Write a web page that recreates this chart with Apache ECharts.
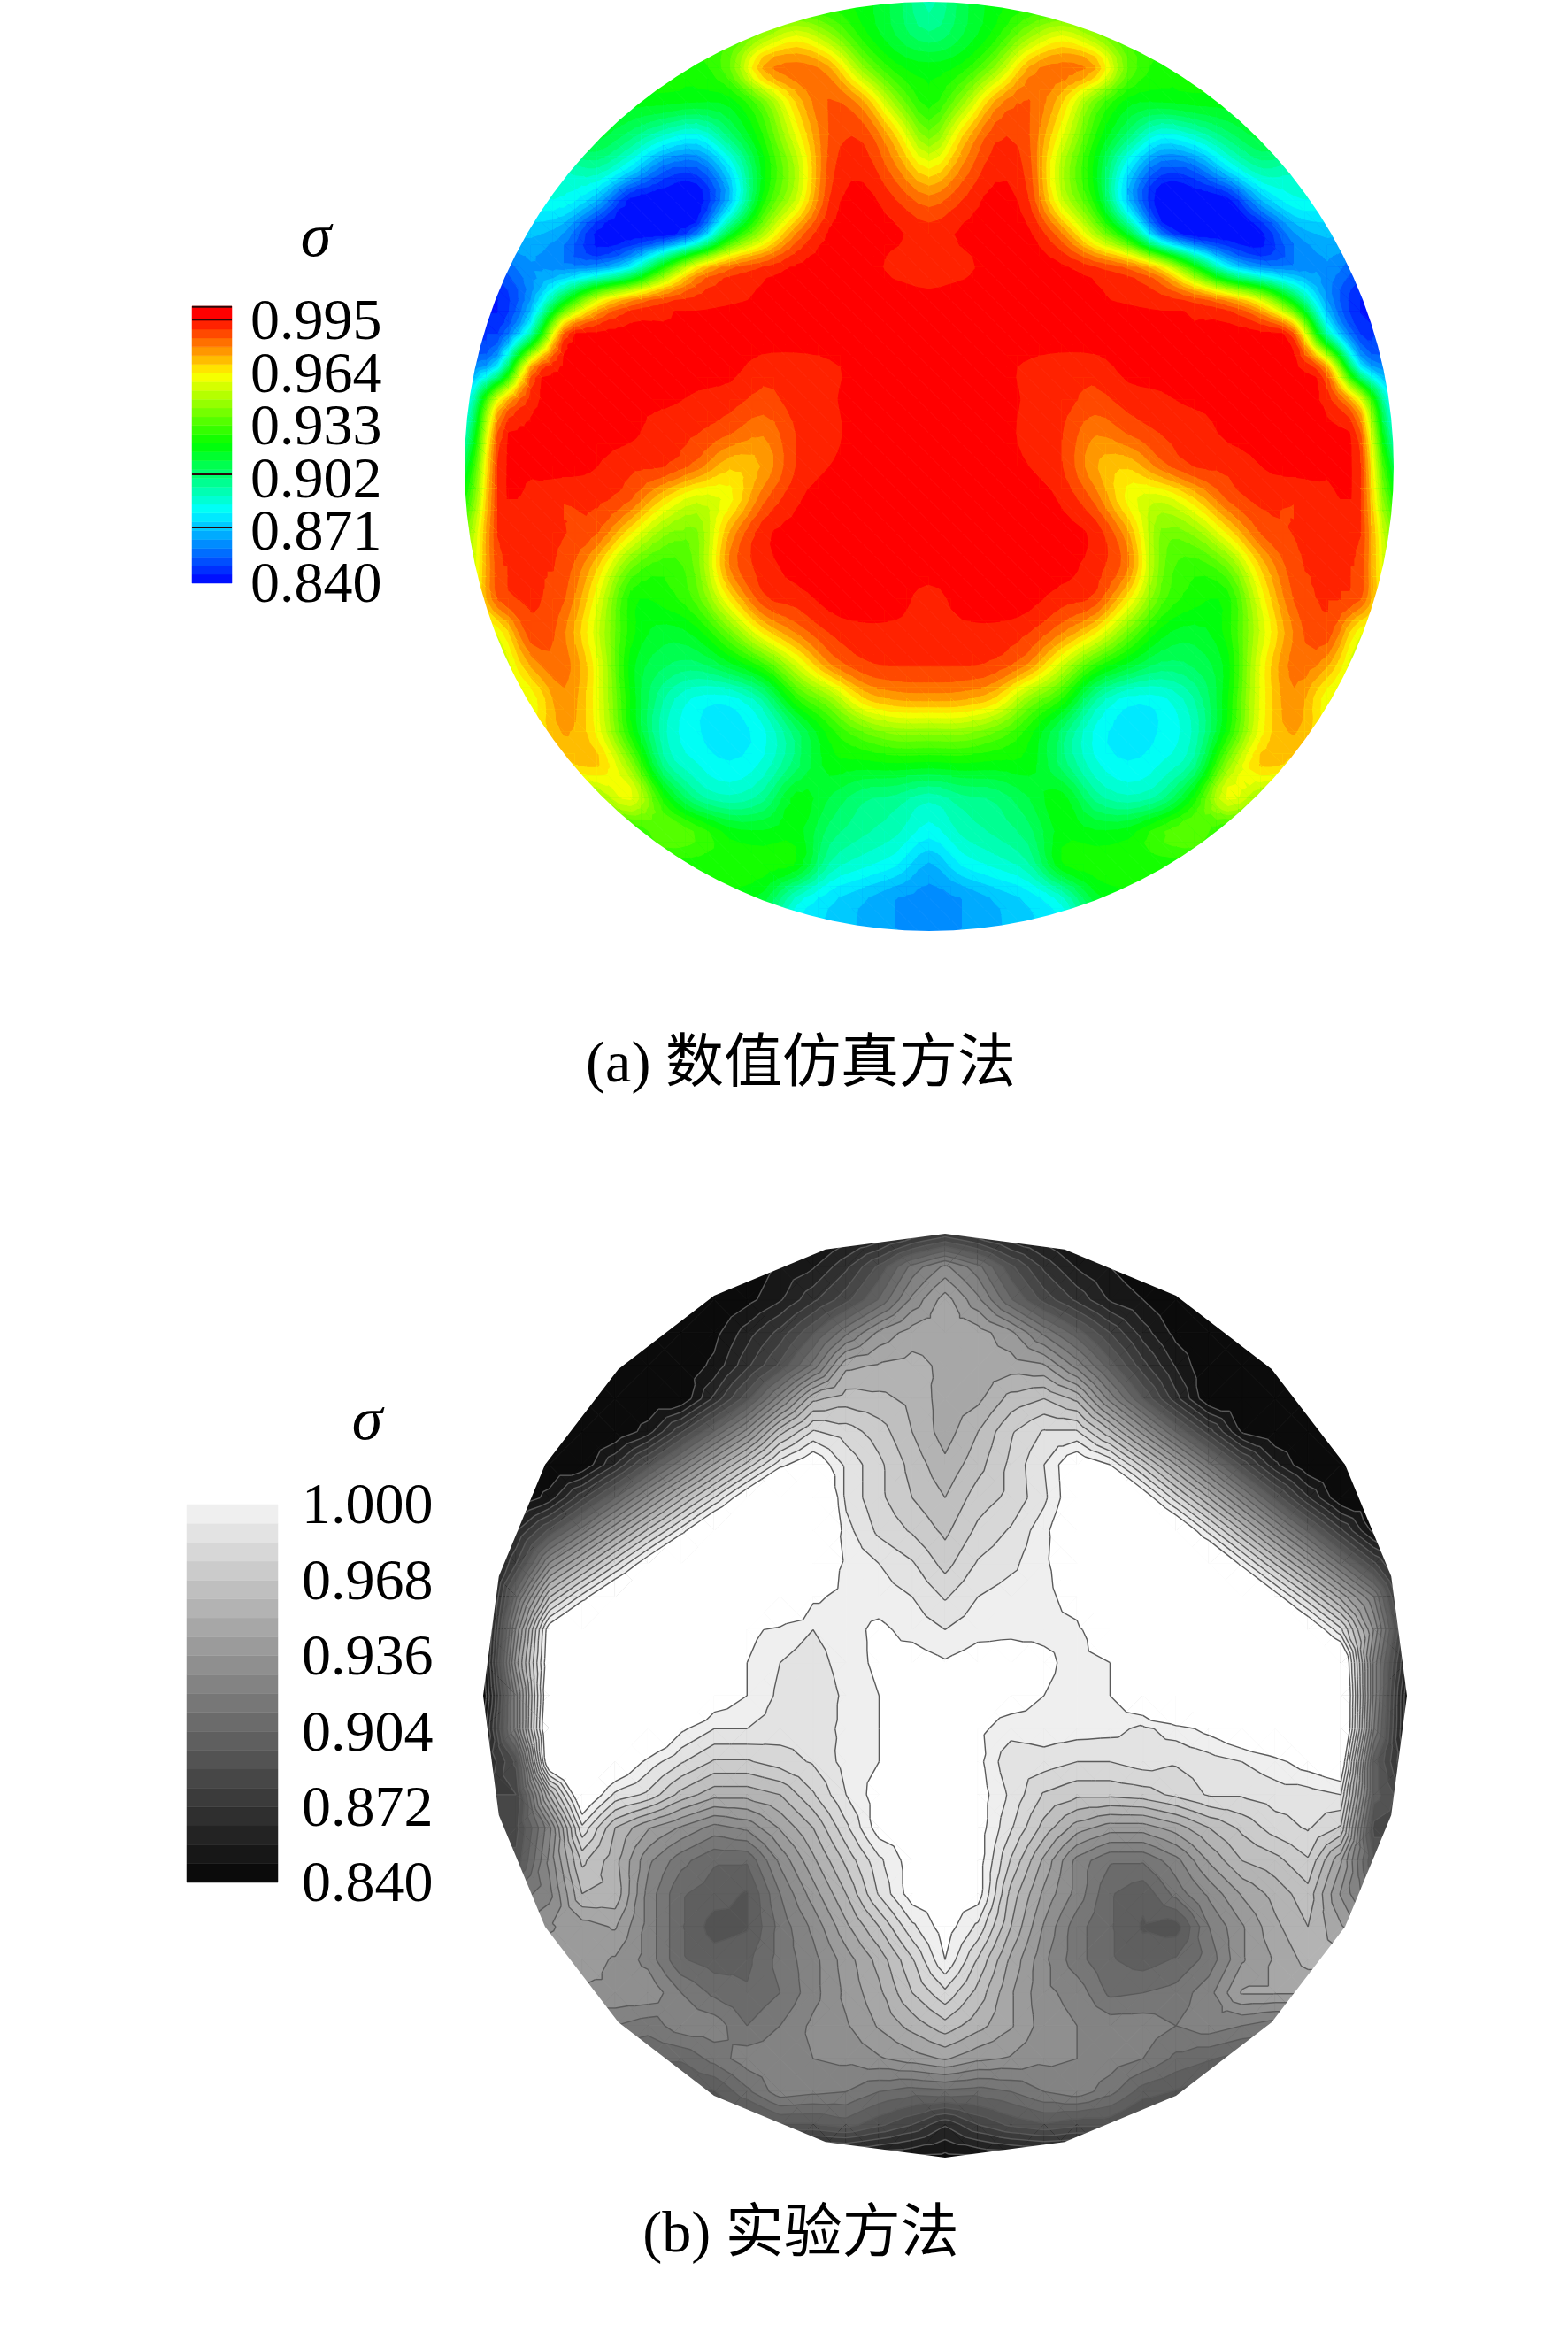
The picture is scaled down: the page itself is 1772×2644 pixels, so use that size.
<!DOCTYPE html>
<html><head><meta charset="utf-8">
<style>html,body{margin:0;padding:0;background:#fff}#c{width:1772px;height:2644px}</style>
<script src="https://cdn.jsdelivr.net/npm/echarts@6/dist/echarts.min.js"></script>
</head><body><div id="c"></div>
<script>
// sigma x 1000 on a square lattice covering each disc
const sigmaA = [
[925,925,925,925,925,925,925,925,925,925,925,925,920,910,895,910,920,925,925,925,925,925,925,925,925,925,925,925,925],
[930,930,930,930,930,930,930,930,930,945,958,945,925,912,903,912,925,945,958,945,930,930,930,930,930,930,930,930,930],
[925,925,925,925,925,925,925,925,938,975,982,975,945,925,920,925,945,975,982,975,938,925,925,925,925,925,925,925,925],
[920,920,920,920,920,920,920,918,920,940,970,985,975,945,925,945,975,985,970,940,920,918,920,920,920,920,920,920,920],
[915,915,915,915,915,905,892,885,905,928,960,985,988,968,940,968,988,985,960,928,905,885,892,905,915,915,915,915,915],
[895,895,895,893,897,880,858,855,880,920,950,987,993,980,963,980,993,987,950,920,880,855,858,880,897,893,895,895,895],
[885,885,885,885,870,842,840,840,872,925,955,990,997,990,982,990,997,990,955,925,872,840,840,842,870,885,885,885,885],
[870,870,872,865,843,840,840,860,915,950,980,996,998,996,992,996,998,996,980,950,915,860,840,840,843,865,872,870,870],
[855,855,865,862,864,882,925,965,983,990,996,998,998,993,991,993,998,998,996,990,983,965,925,882,864,862,865,855,855],
[845,845,866,915,958,978,988,992,994,996,999,999,999,999,997,999,999,999,999,996,994,992,988,978,958,915,866,845,845],
[850,850,895,985,996,997,995,996,999,999,999,999,999,999,999,999,999,999,999,999,999,996,995,997,996,985,895,850,850],
[860,880,975,996,998,998,998,997,997,992,992,994,997,999,999,999,997,994,992,992,997,997,998,998,998,996,975,880,860],
[875,960,992,997,997,996,996,994,992,988,992,994,998,999,999,999,998,994,992,988,992,994,996,996,997,997,992,960,875],
[890,985,996,997,997,996,992,990,985,980,990,993,998,999,999,999,998,993,990,980,985,990,992,996,997,997,996,985,890],
[910,990,996,997,995,991,990,982,970,975,990,995,998,999,999,999,998,995,990,975,970,982,990,991,995,997,996,990,910],
[925,990,993,990,991,985,968,955,962,983,994,998,999,999,999,999,999,998,994,983,962,955,968,985,991,990,993,990,925],
[940,990,991,990,985,965,945,942,975,993,997,999,999,999,999,999,999,999,997,993,975,942,945,965,985,990,991,990,940],
[945,988,990,988,970,940,930,940,980,992,997,999,999,999,999,999,999,999,997,992,980,940,930,940,970,988,990,988,945],
[950,985,990,985,960,925,925,935,965,988,992,997,999,998,992,998,999,997,992,988,965,935,925,925,960,985,990,985,950],
[955,960,988,980,955,925,915,920,940,965,980,990,993,993,992,993,993,990,980,965,940,920,915,925,955,980,988,960,955],
[950,950,975,982,960,920,908,905,915,930,955,978,988,990,990,990,988,978,955,930,915,905,908,920,960,982,975,950,950],
[950,950,960,978,960,922,897,885,884,898,928,945,968,975,976,975,968,945,928,898,884,885,897,922,960,978,960,950,950],
[945,945,960,975,962,925,893,882,879,885,905,925,938,945,945,945,938,925,905,885,879,882,893,925,962,975,960,945,945],
[940,940,945,965,970,945,900,887,882,888,905,920,920,921,920,921,920,920,905,888,882,887,900,945,970,965,945,940,940],
[930,930,930,935,945,960,925,900,893,900,920,912,903,900,893,900,903,912,920,900,893,900,925,960,945,935,930,930,930],
[925,925,925,925,925,925,938,932,920,918,920,905,898,893,884,893,898,905,920,918,920,932,938,925,925,925,925,925,925],
[925,925,925,925,925,925,925,925,925,925,922,896,888,882,870,882,888,896,922,925,925,925,925,925,925,925,925,925,925],
[920,920,920,920,920,920,920,920,920,915,890,878,872,866,864,866,872,878,890,915,920,920,920,920,920,920,920,920,920],
[900,900,900,900,900,900,900,900,900,900,880,875,870,866,865,866,870,875,880,900,900,900,900,900,900,900,900,900,900]
];
const sigmaB = [
[840,840,840,840,840,840,840,840,840,840,840,850,855,865,875,865,855,850,840,840,840,840,840,840,840,840,840,840,840],
[840,840,840,840,840,840,840,840,840,850,855,870,890,915,930,915,890,870,855,848,840,840,840,840,840,840,840,840,840],
[840,840,840,840,840,840,840,840,845,855,870,885,905,930,948,930,905,885,870,855,848,840,840,840,840,840,840,840,840],
[840,840,840,840,840,840,840,845,860,875,895,918,938,948,948,948,938,918,900,880,860,845,840,840,840,840,840,840,840],
[840,840,840,840,840,840,842,850,870,890,915,950,953,955,950,948,948,945,925,900,875,855,840,840,840,840,840,840,840],
[840,840,840,840,840,840,840,866,893,925,958,964,962,958,948,950,963,968,958,925,896,867,840,840,840,840,840,840,840],
[840,840,840,840,840,852,879,905,931,965,985,980,972,960,948,960,975,985,985,962,933,904,876,847,840,840,840,840,840],
[840,840,840,840,864,892,918,945,971,997,1010,990,978,965,954,965,978,992,1010,1000,973,944,915,886,858,840,840,840,840],
[840,840,851,878,904,931,958,984,1011,1037,1030,990,978,968,960,972,978,990,1010,1038,1009,980,952,923,894,865,840,840,840],
[840,863,890,916,943,970,996,1023,1040,1040,1030,995,982,975,966,978,985,997,1015,1040,1040,1018,989,960,931,903,874,845,840],
[845,880,929,955,982,1009,1035,1040,1040,1040,1015,998,992,985,973,985,990,998,1010,1040,1040,1040,1026,997,968,940,911,882,850],
[840,910,967,995,1021,1040,1040,1040,1040,1030,1002,997,996,992,983,992,996,997,1005,1030,1040,1040,1040,1035,1006,978,949,920,860],
[840,930,1007,1034,1040,1040,1040,1040,1003,997,992,997,1002,997,992,997,998,998,998,1010,1040,1040,1040,1040,1040,1015,986,935,870],
[845,940,1010,1035,1040,1040,1040,1030,1000,992,988,996,1002,1005,1001,1005,1005,1002,997,1000,1040,1040,1040,1040,1040,1040,1024,925,860],
[840,925,1015,1040,1040,1040,1030,1008,1000,990,985,994,1000,1005,1005,1005,1005,1000,997,1000,1015,1040,1040,1040,1040,1040,1030,925,850],
[850,925,1020,1040,1040,1025,1002,992,992,988,988,994,1000,1005,1005,1002,996,997,996,995,990,996,1003,1012,1020,1030,1030,920,850],
[860,890,1015,1030,1015,997,985,975,975,980,985,995,1000,1005,1005,1003,985,988,984,984,988,985,988,992,997,1005,1012,900,860],
[880,880,960,1015,990,982,965,955,955,960,975,992,1005,1005,1005,1005,990,975,970,970,972,978,985,985,988,988,992,900,880],
[885,885,925,990,960,945,935,925,930,945,960,982,1005,1005,1005,1005,985,965,948,940,940,948,960,970,980,985,975,885,885],
[890,890,930,970,955,930,915,905,905,930,950,970,990,1005,1005,1005,975,950,925,913,913,925,945,960,965,975,945,895,895],
[900,915,925,960,958,925,905,900,895,920,940,960,985,1005,1005,1005,965,942,925,905,898,915,930,945,955,965,935,910,900],
[920,930,935,940,945,925,905,892,895,915,930,950,968,990,1005,990,960,935,915,905,895,892,920,935,950,960,945,930,920],
[935,940,940,940,935,925,905,900,902,915,925,940,955,975,1000,975,950,930,915,905,900,905,915,935,945,955,955,945,935],
[935,935,935,935,935,935,920,910,905,912,925,938,950,968,982,965,945,930,925,910,912,915,925,945,945,945,945,945,945],
[920,920,920,920,920,915,925,925,912,920,930,935,945,955,965,955,945,932,928,925,925,920,925,920,915,915,915,915,915],
[905,905,905,905,905,905,905,915,925,925,928,930,935,940,945,938,935,930,928,925,920,910,905,900,900,900,900,900,900],
[895,895,895,895,895,895,895,895,910,925,922,920,912,908,910,908,912,920,925,915,900,895,890,890,890,890,890,890,890],
[885,885,885,885,885,885,885,885,885,895,895,900,890,880,865,880,890,895,890,890,880,880,880,880,880,880,880,880,880],
[850,850,850,850,850,850,850,850,850,850,850,850,848,846,845,846,848,850,850,850,850,850,850,850,850,850,850,850,850]
];
const tickLabelsA = [0.840, 0.871, 0.902, 0.933, 0.964, 0.995];
const tickLabelsB = [0.840, 0.872, 0.904, 0.936, 0.968, 1.000];
const barMarksA = [1.0030, 0.9955, 0.9042, 0.8729];
const rainbowStops = [[0.84,[0,0,255]],[0.8825,[0,255,255]],[0.922,[0,255,0]],[0.963,[255,255,0]],[0.997,[255,0,0]]];
const captionA = '(a) 数值仿真方法', captionB = '(b) 实验方法', symbol = 'σ';

const serif = '"Liberation Serif","Noto Sans CJK SC",serif';
function rainbow(v){
  const s = rainbowStops;
  if (v <= s[0][0]) return 'rgb(0,0,255)';
  for (let i = 1; i < s.length; i++) if (v <= s[i][0]) {
    const t = (v - s[i-1][0]) / (s[i][0] - s[i-1][0]);
    const c = s[i-1][1].map((a, n) => Math.round(a + (s[i][1][n] - a) * t));
    return 'rgb(' + c.join(',') + ')';
  }
  return 'rgb(255,0,0)';
}
function gray(v){
  if (v >= 1) return '#ffffff';
  const g = Math.round(5 + (v - 0.84) / 0.16 * 240);
  return 'rgb(' + g + ',' + g + ',' + g + ')';
}
function makeLevels(step, count){ const l = []; for (let k = 0; k < count; k++) l.push(0.84 + k * step); return l; }
const levelsA = makeLevels(0.155 / 30, 32);
const levelsB = makeLevels(0.008, 21);
const coloursA = levelsA.map((l, k) => rainbow(l + 0.155 / 60));
const coloursB = levelsB.map((l, k) => gray(l + 0.004));

function cells(g){
  const out = [];
  for (let j = 0; j < g.length - 1; j++) for (let i = 0; i < g[j].length - 1; i++)
    out.push([i, j, g[j][i] / 1000, g[j][i+1] / 1000, g[j+1][i] / 1000, g[j+1][i+1] / 1000]);
  return out;
}
function trianglesLinear(api){
  const i = api.value(0), j = api.value(1);
  const v = [api.value(2), api.value(3), api.value(5), api.value(4)];
  const q = [[i,j],[i+1,j],[i+1,j+1],[i,j+1]].map((d, n) => { const p = api.coord(d); return [p[0], p[1], v[n]]; });
  const cp = api.coord([i + 0.5, j + 0.5]);
  const c = [cp[0], cp[1], (v[0] + v[1] + v[2] + v[3]) / 4];
  return [[q[0],q[1],c],[q[1],q[2],c],[q[2],q[3],c],[q[3],q[0],c]];
}
// contour estimator for the smooth field: Catmull-Rom through the read lattice, limited to the local range
function cr(p0, p1, p2, p3, t){ return p1 + 0.5 * t * (p2 - p0 + t * (2*p0 - 5*p1 + 4*p2 - p3 + t * (3*(p1 - p2) + p3 - p0))); }
function trianglesSmooth(grid, sub){
  const n = grid.length - 1, at = (j, i) => grid[Math.max(0, Math.min(n, j))][Math.max(0, Math.min(n, i))] / 1000;
  return function(api){
    const i = api.value(0), j = api.value(1), node = [];
    const f = (u, w) => {
      const rows = [-1,0,1,2].map(d => cr(at(j+d,i-1), at(j+d,i), at(j+d,i+1), at(j+d,i+2), u));
      const val = cr(rows[0], rows[1], rows[2], rows[3], w);
      const c = [at(j,i), at(j,i+1), at(j+1,i), at(j+1,i+1)];
      return Math.max(Math.min.apply(null, c), Math.min(Math.max.apply(null, c), val));
    };
    for (let b = 0; b <= sub; b++) { node[b] = []; for (let a = 0; a <= sub; a++) {
      const p = api.coord([i + a / sub, j + b / sub]); node[b][a] = [p[0], p[1], f(a / sub, b / sub)];
    }}
    const out = [];
    for (let b = 0; b < sub; b++) for (let a = 0; a < sub; a++) {
      out.push([node[b][a], node[b][a+1], node[b+1][a+1]]);
      out.push([node[b][a], node[b+1][a+1], node[b+1][a]]);
    }
    return out;
  };
}
function cross(a, b, l){ const t = (l - a[2]) / (b[2] - a[2]); return [a[0] + (b[0]-a[0])*t, a[1] + (b[1]-a[1])*t, l]; }
function clipAbove(poly, l){
  const out = [];
  for (let n = 0; n < poly.length; n++) {
    const a = poly[n], b = poly[(n+1) % poly.length];
    if (a[2] >= l) out.push(a);
    if ((a[2] >= l) !== (b[2] >= l)) out.push(cross(a, b, l));
  }
  return out;
}
function bandIndex(levels, v){ let k = 0; while (k + 1 < levels.length && v >= levels[k+1]) k++; return k; }
function bandRenderer(levels, colours, tris){
  return function(params, api){
    const children = [];
    tris(api).forEach(t => {
      const vs = t.map(p => p[2]);
      const k0 = bandIndex(levels, Math.min.apply(null, vs)), k1 = bandIndex(levels, Math.max.apply(null, vs));
      for (let k = k0; k <= k1; k++) {
        const poly = k === k0 ? t : clipAbove(t, levels[k]);
        if (poly.length > 2) children.push({type:'polygon', shape:{points: poly.map(p => [p[0], p[1]])},
          style:{fill: colours[k], stroke: colours[k], lineWidth: 1}});
      }
    });
    return {type:'group', children};
  };
}
function isolineRenderer(levels, tris){
  return function(params, api){
    const children = [];
    tris(api).forEach(t => {
      levels.forEach((l, k) => {
        if (k === 0) return;
        const pts = [];
        for (let n = 0; n < 3; n++) {
          const a = t[n], b = t[(n+1) % 3];
          if ((a[2] >= l) !== (b[2] >= l)) { const x = cross(a, b, l); pts.push([x[0], x[1]]); }
        }
        if (pts.length === 2) children.push({type:'polyline', shape:{points: pts},
          style:{stroke:'#5a5a5a', lineWidth:1.4, fill:null}});
      });
    });
    return {type:'group', children};
  };
}
function maskRenderer(sides, size){
  return function(params, api){
    const P = d => { const p = api.coord(d); return p[0].toFixed(2) + ' ' + p[1].toFixed(2); };
    const m = 0.06, c = size / 2;
    let d = 'M' + P([-m,-m]) + 'L' + P([size+m,-m]) + 'L' + P([size+m,size+m]) + 'L' + P([-m,size+m]) + 'Z';
    for (let n = 0; n < sides; n++) {
      const a = -Math.PI / 2 - n * 2 * Math.PI / sides;
      d += (n ? 'L' : 'M') + P([c + c * Math.cos(a), c + c * Math.sin(a)]);
    }
    d += 'Z';
    return {type:'path', shape:{pathData: d}, style:{fill:'#fff'}};
  };
}
function swatches(levels, top){
  return levels.map((l, k) => [l, k + 1 < levels.length ? levels[k+1] : top, k]).filter(r => r[0] < top);
}
function barRenderer(colours, top){
  return function(params, api){
    const a = api.coord([0, api.value(0)]), b = api.coord([1, Math.min(api.value(1), top)]);
    return {type:'rect', shape:{x:a[0], y:b[1], width:b[0]-a[0], height:a[1]-b[1]},
      style:{fill: colours[api.value(2)], stroke: colours[api.value(2)], lineWidth: 0.5}};
  };
}
function markRenderer(params, api){
  const a = api.coord([0, api.value(0)]), b = api.coord([1, api.value(0)]);
  return {type:'line', shape:{x1:a[0], y1:a[1], x2:b[0], y2:b[1]}, style:{stroke:'#2a0a0a', lineWidth:2}};
}
function tickTextRenderer(margin, size){
  return function(params, api){
    const p = api.coord([1, api.value(0)]);
    return {type:'text', x:p[0] + margin, y:p[1] + 4,
      style:{text: api.value(0).toFixed(3), fontFamily: serif, fontSize: size, fill:'#000', align:'left', verticalAlign:'middle'}};
  };
}
const N = sigmaA.length - 1;
const hiddenX = (g, min, max) => ({gridIndex:g, type:'value', min, max, show:false, splitLine:{show:false}});
const hiddenY = (g, min, max) => ({gridIndex:g, type:'value', min, max, inverse:true, show:false, splitLine:{show:false}});
const custom = (g, data, renderItem, z) => ({type:'custom', xAxisIndex:g, yAxisIndex:g, data, renderItem, z,
  coordinateSystem:'cartesian2d', clip:false, silent:true, animation:false, progressive:0, encode:{x:0, y:1}});
const barY = (g, min, max) => ({gridIndex:g, type:'value', min, max, show:false, scale:true, splitLine:{show:false}});
const title = (text, x, y, size, style) => ({text, left:x, top:y, padding:0, textAlign:'center', textVerticalAlign:'middle',
  textStyle:{fontFamily:serif, fontSize:size, fontWeight:'normal', fontStyle:style || 'normal', color:'#000'}});

const chart = echarts.init(document.getElementById('c'), null, {renderer:'canvas'});
const TOP_A = 1.0034, TOP_B = 1.0;
const barsA = swatches(levelsA, TOP_A), barsB = swatches(levelsB, TOP_B);
chart.setOption({
  backgroundColor:'#fff', animation:false,
  title:[title(symbol, 357, 271, 70, 'italic'), title(symbol, 415, 1608, 70, 'italic'),
         title(captionA, 905, 1205, 66), title(captionB, 905, 2527, 66)],
  grid:[
    {left:525, top:2, width:1050, height:1050},
    {left:546, top:1394, width:1044, height:1044},
    {left:217, top:346, width:45, height:313},
    {left:211, top:1700, width:103, height:427}
  ],
  xAxis:[hiddenX(0,0,N), hiddenX(1,0,N), hiddenX(2,0,1), hiddenX(3,0,1)],
  yAxis:[hiddenY(0,0,N), hiddenY(1,0,N), barY(2,0.84,TOP_A), barY(3,0.84,TOP_B)],
  series:[
    custom(0, cells(sigmaA), bandRenderer(levelsA, coloursA, trianglesSmooth(sigmaA, 3)), 2),
    custom(0, [[0,0]], maskRenderer(120, N), 4),
    custom(1, cells(sigmaB), bandRenderer(levelsB, coloursB, trianglesLinear), 2),
    custom(1, cells(sigmaB), isolineRenderer(levelsB, trianglesLinear), 3),
    custom(1, [[0,0]], maskRenderer(24, N), 4),
    Object.assign(custom(2, barsA, barRenderer(coloursA, TOP_A), 2), {encode:{x:2, y:0}}),
    Object.assign(custom(2, barMarksA.map(v => [v]), markRenderer, 3), {encode:{y:0}}),
    Object.assign(custom(2, tickLabelsA.map(v => [v]), tickTextRenderer(21, 66), 3), {encode:{y:0}}),
    Object.assign(custom(3, barsB, barRenderer(coloursB, TOP_B), 2), {encode:{x:2, y:0}}),
    Object.assign(custom(3, tickLabelsB.map(v => [v]), tickTextRenderer(27, 66), 3), {encode:{y:0}})
  ]
});
</script></body></html>
